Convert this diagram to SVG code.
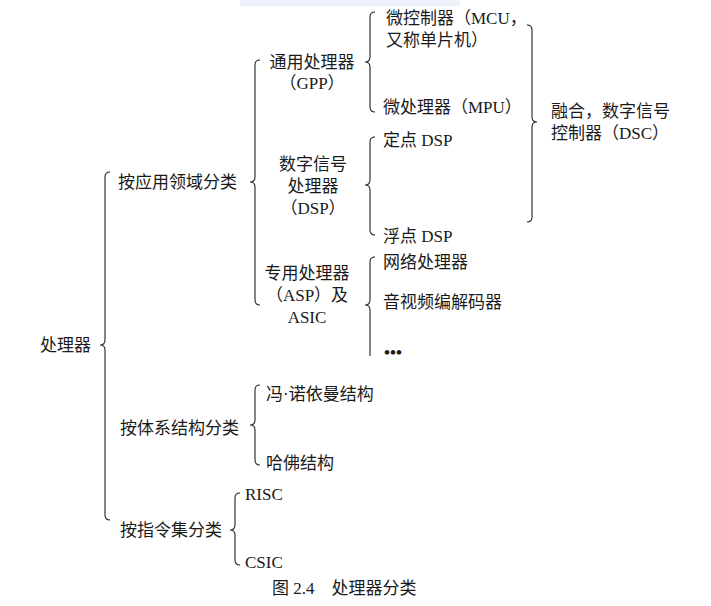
<svg xmlns="http://www.w3.org/2000/svg" width="711" height="606" viewBox="0 0 711 606">
<style>
text{font-family:"Liberation Serif","Noto Sans CJK SC",serif;font-size:17px;fill:#1a1a1a}
.b{fill:none;stroke:#222;stroke-width:1.1}
.c{text-anchor:middle}
</style>
<rect width="711" height="606" fill="#fff"/>
<rect x="240" y="0" width="220" height="6" fill="#eef2fa"/>
<g id="connectors">
<path class="b" d="M110,172 Q105,172 105,177 L105,340 Q105,345 100,345 Q105,345 105,350 L105,515 Q105,520 110,520"/>
<path class="b" d="M260,60 Q255,60 255,65 L255,177 Q255,182 250,182 Q255,182 255,187 L255,300 Q255,305 260,305"/>
<path class="b" d="M375,12 Q370,12 370,17 L370,57 Q370,62 365,62 Q370,62 370,67 L370,107 Q370,112 375,112"/>
<path class="b" d="M375,137 Q370,137 370,142 L370,180 Q370,185 365,185 Q370,185 370,190 L370,230 Q370,235 375,235"/>
<path class="b" d="M375,257 Q370,257 370,262 L370,300 Q370,305 365,305 Q370,305 370,310 L370,356"/>
<path class="b" d="M527,25 Q532,25 532,30 L532,117 Q532,122 537,122 Q532,122 532,127 L532,217 Q532,222 527,222"/>
<path class="b" d="M260,385 Q255,385 255,390 L255,420 Q255,425 250,425 Q255,425 255,430 L255,460 Q255,465 260,465"/>
<path class="b" d="M240,493 Q235,493 235,498 L235,525 Q235,530 230,530 Q235,530 235,535 L235,560 Q235,565 240,565"/>
</g>
<g id="root"><text x="40" y="351">处理器</text></g>
<g id="app"><text x="118" y="188">按应用领域分类</text></g>
<g id="arch"><text x="120" y="434">按体系结构分类</text></g>
<g id="isa"><text x="120" y="536">按指令集分类</text></g>
<g id="gpp"><text class="c" x="312" y="68">通用处理器</text><text class="c" x="312" y="89">（GPP）</text></g>
<g id="dsp"><text class="c" x="313" y="170">数字信号</text><text class="c" x="313" y="192">处理器</text><text class="c" x="313" y="214">（DSP）</text></g>
<g id="asp"><text class="c" x="307" y="279">专用处理器</text><text class="c" x="307" y="301">（ASP）及</text><text class="c" x="307" y="323">ASIC</text></g>
<g id="mcu"><text x="386" y="24">微控制器（MCU，</text><text x="386" y="46">又称单片机）</text></g>
<g id="mpu"><text x="383" y="113">微处理器（MPU）</text></g>
<g id="fixed"><text x="383" y="146">定点 DSP</text></g>
<g id="float"><text x="383" y="242">浮点 DSP</text></g>
<g id="np"><text x="383" y="268">网络处理器</text></g>
<g id="av"><text x="383" y="308">音视频编解码器</text></g>
<g id="more"><text x="384" y="358" style="font-weight:bold">•••</text></g>
<g id="dsc"><text x="551" y="117">融合，数字信号</text><text x="551" y="139">控制器（DSC）</text></g>
<g id="von"><text x="266" y="400">冯·诺依曼结构</text></g>
<g id="harv"><text x="266" y="469">哈佛结构</text></g>
<g id="risc"><text x="245" y="500">RISC</text></g>
<g id="csic"><text x="245" y="568">CSIC</text></g>
<text x="272" y="594">图 2.4　处理器分类</text>
</svg>
